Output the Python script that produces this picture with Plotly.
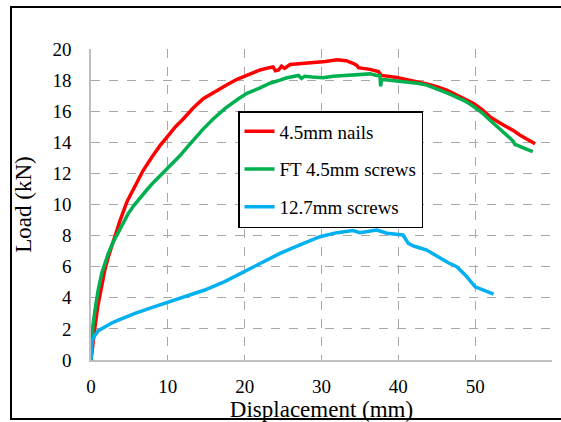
import plotly.graph_objects as go

# ---- data ----
nails_x = [0, 0.2, 0.52, 0.9, 1.39, 1.8, 2.3, 3.1, 3.8, 4.7, 5.7, 6.8, 8.0, 9.0, 10.0, 11.0, 12.0,
           13.3, 14.6, 15.9, 17.7, 19.0, 20.3, 22.0, 23.2, 23.7, 24.0, 24.4, 24.8, 25.2, 25.9, 27.5,
           28.9, 30.5, 32.0, 33.2, 34.1, 34.6, 34.8, 35.5, 36.3, 37.4, 37.8, 39.8, 41.0, 42.4, 43.7,
           45.0, 46.3, 47.6, 48.7, 49.8, 50.9, 51.9, 53.0, 54.1, 55.0, 55.8, 56.8, 57.8]
nails_y = [0, 1.0, 2.14, 3.5, 4.93, 5.8, 6.7, 8.0, 9.0, 10.2, 11.2, 12.2, 13.1, 13.8, 14.4, 15.0, 15.5,
           16.2, 16.8, 17.2, 17.7, 18.05, 18.3, 18.65, 18.8, 18.85, 18.6, 18.65, 18.9, 18.75, 19.0, 19.05,
           19.15, 19.2, 19.3, 19.25, 19.08, 18.95, 18.8, 18.75, 18.69, 18.55, 18.3, 18.17, 18.05, 17.9, 17.75,
           17.58, 17.35, 17.04, 16.8, 16.5, 16.1, 15.65, 15.3, 15.0, 14.75, 14.47, 14.2, 13.9]

ft_x = [0, 0.1, 0.25, 0.52, 0.9, 1.39, 1.8, 2.25, 2.9, 3.56, 4.2, 4.86, 5.6, 6.4, 7.2, 8.0, 9.0, 10.0,
        11.5, 12.9, 14.5, 15.9, 17.5, 19.2, 20.3, 22.0, 23.3, 24.6, 25.5, 26.5, 27.0, 27.4, 27.8, 28.8,
        30.2, 31.5, 33.3, 35.0, 36.3, 37.2, 37.6, 37.7, 37.8, 38.0, 39.5, 41.1, 42.5, 43.7, 44.5,
        45.4, 46.5, 47.6, 48.7, 49.8, 50.9, 51.9, 53.0, 54.1, 54.9, 55.2, 55.4, 56.1, 56.8, 57.5]
ft_y = [0, 1.3, 2.2, 3.2, 4.4, 5.57, 6.2, 6.86, 7.6, 8.25, 8.85, 9.43, 9.95, 10.45, 10.9, 11.35, 11.85, 12.3,
        13.1, 13.9, 14.8, 15.5, 16.2, 16.8, 17.15, 17.5, 17.8, 18.0, 18.15, 18.25, 18.3, 18.1, 18.25, 18.2,
        18.15, 18.25, 18.3, 18.39, 18.4, 18.3, 18.3, 17.6, 18.0, 18.04, 17.97, 17.9, 17.8, 17.68, 17.55,
        17.36, 17.15, 16.93, 16.65, 16.3, 15.9, 15.43, 14.95, 14.47, 14.1, 13.85, 13.83, 13.67, 13.55, 13.4]

big_x = [0, 0.02, 0.09, 0.3, 0.52, 1.0, 1.82, 2.7, 3.56, 4.6, 5.73, 7.8, 9.93, 12.2, 14.8, 17.4,
         20.0, 22.6, 24.6, 27.2, 29.8, 32.0, 34.1, 35.0, 36.2, 37.2, 38.5, 39.5, 40.6, 41.3, 42.0,
         43.7, 45.4, 46.5, 47.6, 48.7, 50.0, 51.1, 52.4]
big_y = [0, 0.5, 1.07, 1.4, 1.6, 1.9, 2.14, 2.38, 2.57, 2.8, 3.0, 3.35, 3.69, 4.07, 4.5, 5.04,
         5.68, 6.32, 6.86, 7.4, 7.93, 8.19, 8.32, 8.19, 8.3, 8.36, 8.15, 8.1, 8.04, 7.5, 7.33,
         7.07, 6.54, 6.25, 6.0, 5.47, 4.71, 4.5, 4.24]

series = [
    ("4.5mm nails", nails_x, nails_y, "#FF0000"),
    ("FT 4.5mm screws", ft_x, ft_y, "#00B050"),
    ("12.7mm screws", big_x, big_y, "#00B0F0"),
]

FONT = "serif"

fig = go.Figure()
for i, (name, xs, ys, col) in enumerate(series):
    fig.add_trace(go.Scatter(x=xs, y=ys, mode="lines", name=name, legendgroup=f"g{i}",
                             line=dict(color=col, width=3.5)))

W, H = 561, 422
L, R, T, B = 91, 9, 49, 62
pw, ph = W - L - R, H - T - B

def px_x(p):
    return (p - L) / pw

def px_y(p):
    return (H - B - p) / ph

fig.update_layout(
    template="none",
    width=W, height=H,
    margin=dict(l=L, r=R, t=T, b=B),
    paper_bgcolor="white", plot_bgcolor="white",
    font=dict(family=FONT, size=19, color="black"),
    showlegend=True,
    legend=dict(x=px_x(238), y=px_y(111), xanchor="left", yanchor="top",
                bgcolor="white", bordercolor="black", borderwidth=1.5,
                font=dict(family=FONT, size=19, color="black"),
                traceorder="grouped", tracegroupgap=10),
    shapes=[dict(type="rect", xref="paper", yref="paper",
                 x0=px_x(11), x1=px_x(575), y0=px_y(419), y1=px_y(7),
                 line=dict(color="black", width=2))],
)
fig.update_xaxes(range=[0, 60], dtick=10, showgrid=True, gridcolor="#A8A8A8", griddash="dash",
                 gridwidth=1, zeroline=False, showline=True, linecolor="#BFBFBF", linewidth=1.5,
                 ticks="outside", ticklen=8, tickcolor="white",
                 tickfont=dict(family=FONT, size=19, color="black"),
                 title_text="Displacement (mm)", title_standoff=0)
fig.update_yaxes(range=[0, 20], dtick=2, showgrid=True, gridcolor="#A8A8A8", griddash="dash",
                 gridwidth=1, zeroline=False, showline=True, linecolor="#BFBFBF", linewidth=1.5,
                 ticks="outside", ticklen=14, tickcolor="white",
                 tickfont=dict(family=FONT, size=19, color="black"),
                 title_text="Load (kN)", title_standoff=14)

fig.write_html("out.html")
